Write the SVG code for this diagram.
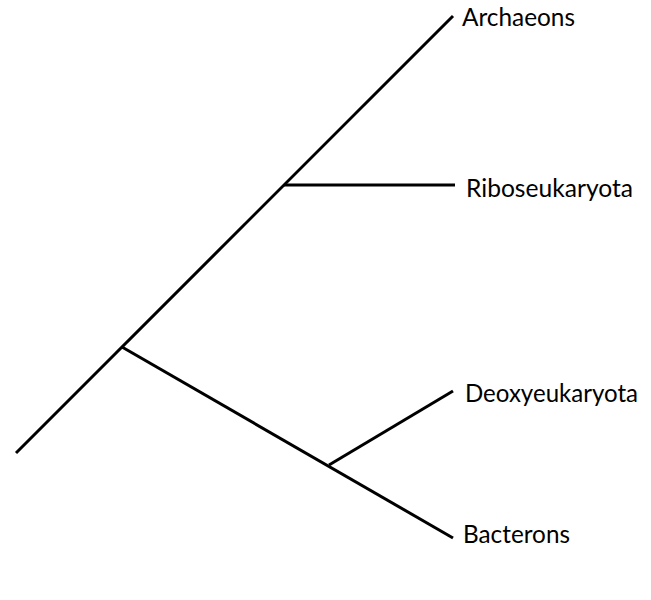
<svg xmlns="http://www.w3.org/2000/svg" width="651" height="600" viewBox="0 0 651 600">
<style>
.e{stroke:#000;stroke-width:3;fill:none;stroke-linecap:butt}
.t{font-family:Lato,"Open Sans","Liberation Sans",sans-serif;font-size:25px;fill:#000}
</style>
<rect width="651" height="600" fill="#fff"/>
<g id="connectors">
<line class="e" x1="16" y1="453" x2="453" y2="16"/>
<line class="e" x1="284" y1="185" x2="455" y2="185"/>
<line class="e" x1="122" y1="347" x2="453" y2="538"/>
<line class="e" x1="329" y1="465" x2="453" y2="391"/>
</g>
<g id="archaeons"><text class="t" x="462" y="26" textLength="113" lengthAdjust="spacingAndGlyphs">Archaeons</text></g>
<g id="riboseukaryota"><text class="t" x="466" y="197" textLength="167" lengthAdjust="spacingAndGlyphs">Riboseukaryota</text></g>
<g id="deoxyeukaryota"><text class="t" x="465" y="402" textLength="173" lengthAdjust="spacingAndGlyphs">Deoxyeukaryota</text></g>
<g id="bacterons"><text class="t" x="463" y="543" textLength="107" lengthAdjust="spacingAndGlyphs">Bacterons</text></g>
</svg>
